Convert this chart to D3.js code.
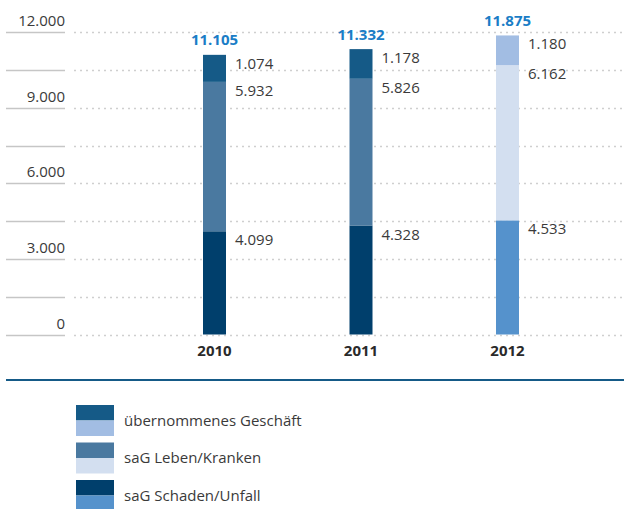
<!DOCTYPE html>
<html>
<head>
<meta charset="utf-8">
<script src="https://cdn.jsdelivr.net/npm/d3@7"></script>
<style>
    body { margin: 0; background: #fff; }
    svg { display: block; font-family: "Open Sans", sans-serif; }
</style>
</head>
<body>
<div id="chart"></div>
<script>
// values per year (Mio. EUR)
const years = ["2010", "2011", "2012"];
const schaden = [4099, 4328, 4533];
const leben = [5932, 5826, 6162];
const uebernommen = [1074, 1178, 1180];
const totals = [11105, 11332, 11875];
const seriesNames = ["übernommenes Geschäft", "saG Leben/Kranken", "saG Schaden/Unfall"];

// dark shades for the earlier years, light shades for the current one
const darkColors = { uebernommen: "#155a87", leben: "#4a79a0", schaden: "#003f6c" };
const lightColors = { uebernommen: "#a2bde3", leben: "#d3dff0", schaden: "#5592cc" };

const width = 624, height = 509;

const svg = d3.select("#chart").append("svg")
    .attr("width", width)
    .attr("height", height);

const de = d3.formatLocale({ decimal: ",", thousands: ".", grouping: [3], currency: ["", " €"] });
const fmt = de.format(",d");

const y = d3.scaleLinear()
    .domain([0, 12000])
    .range([334.5, 32.3]);

const x = d3.scalePoint()
    .domain(years)
    .range([214.5, 507.5]);

const barW = 23;

// grid lines: solid stub under the labels, dotted across the plot
const gridTicks = d3.range(0, 12001, 1500);
svg.append("g").selectAll("line")
    .data(gridTicks)
    .enter().append("line")
    .attr("x1", 6).attr("x2", 65)
    .attr("y1", d => Math.round(y(d)) + 0.5)
    .attr("y2", d => Math.round(y(d)) + 0.5)
    .attr("stroke", "#c6c6c6")
    .attr("stroke-width", 1.5);

svg.append("g").selectAll("line")
    .data(gridTicks)
    .enter().append("line")
    .attr("x1", 74).attr("x2", width)
    .attr("y1", d => Math.round(y(d)) + 0.5)
    .attr("y2", d => Math.round(y(d)) + 0.5)
    .attr("stroke", "#cfcfcf")
    .attr("stroke-width", 1.3)
    .attr("stroke-dasharray", "2,4");

// y labels every 3000
svg.append("g").selectAll("text")
    .data(d3.range(0, 12001, 3000))
    .enter().append("text")
    .attr("x", 65)
    .attr("y", d => y(d) - 6)
    .attr("text-anchor", "end")
    .attr("font-size", 15)
    .attr("fill", "#3a3a3a")
    .text(d => fmt(d));

// stacked bars
const rows = years.map((yr, i) => ({
    year: yr,
    segs: [
        { key: "schaden", v0: 0, v1: schaden[i] },
        { key: "leben", v0: schaden[i], v1: schaden[i] + leben[i] },
        { key: "uebernommen", v0: schaden[i] + leben[i], v1: schaden[i] + leben[i] + uebernommen[i] }
    ],
    light: i === years.length - 1,
    total: totals[i]
}));

const barG = svg.append("g").selectAll("g")
    .data(rows)
    .enter().append("g");

barG.selectAll("rect")
    .data(d => d.segs.map(s => Object.assign({ light: d.light, year: d.year }, s)))
    .enter().append("rect")
    .attr("x", d => x(d.year) - barW / 2)
    .attr("width", barW)
    .attr("y", d => y(d.v1))
    .attr("height", d => y(d.v0) - y(d.v1))
    .attr("fill", d => d.light ? lightColors[d.key] : darkColors[d.key]);

// segment values to the right of the bar
barG.selectAll("text.seg")
    .data(d => d.segs.map(s => Object.assign({ year: d.year }, s)))
    .enter().append("text")
    .attr("class", "seg")
    .attr("x", d => x(d.year) + barW / 2 + 9)
    .attr("y", d => y(d.v1) + 14)
    .attr("font-size", 15)
    .attr("fill", "#3a3a3a")
    .text(d => fmt(d.v1 - d.v0));

// totals above
barG.append("text")
    .attr("x", d => x(d.year))
    .attr("y", d => y(d.total) - 9.5)
    .attr("text-anchor", "middle")
    .attr("font-size", 15)
    .attr("font-weight", "bold")
    .attr("fill", "#1a7dc6")
    .text(d => fmt(d.total));

// year labels
svg.append("g").selectAll("text")
    .data(years)
    .enter().append("text")
    .attr("x", d => x(d))
    .attr("y", 356)
    .attr("text-anchor", "middle")
    .attr("font-size", 15)
    .attr("font-weight", "bold")
    .attr("fill", "#2a2a2a")
    .text(d => d);

// separator
svg.append("line")
    .attr("x1", 6).attr("x2", width)
    .attr("y1", 380).attr("y2", 380)
    .attr("stroke", "#155a87")
    .attr("stroke-width", 2);

// legend
const legendKeys = ["uebernommen", "leben", "schaden"];
const legend = svg.append("g")
    .attr("transform", "translate(76,405)");

const item = legend.selectAll("g")
    .data(legendKeys)
    .enter().append("g")
    .attr("transform", (d, i) => "translate(0," + (i * 37.5) + ")");

item.append("rect")
    .attr("width", 38).attr("height", 15.5)
    .attr("fill", d => darkColors[d]);

item.append("rect")
    .attr("y", 15.5)
    .attr("width", 38).attr("height", 15.5)
    .attr("fill", d => lightColors[d]);

item.append("text")
    .attr("x", 48)
    .attr("y", 20.5)
    .attr("font-size", 15)
    .attr("fill", "#3a3a3a")
    .text((d, i) => seriesNames[i]);
</script>
</body>
</html>
